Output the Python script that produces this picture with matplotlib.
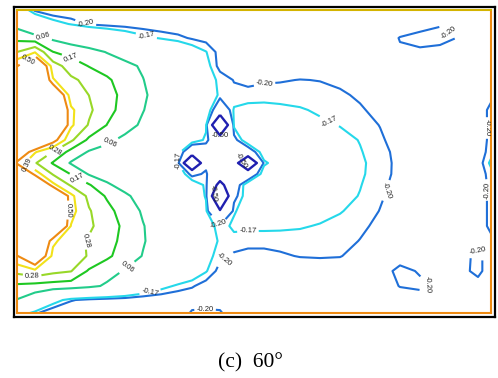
import numpy as np
import matplotlib
matplotlib.use("Agg")
import matplotlib.pyplot as plt

# positions of the sampled field (pixel-like units, y grows downward)
x_pos = [17, 35, 53, 71, 89, 107, 125, 143, 161, 178, 192, 206, 220, 234,
         248, 264, 280, 300, 320, 340, 360, 380, 400, 420, 440, 460, 478, 491]
y_pos = [10, 24, 38, 52, 66, 80, 95, 110, 125, 140, 152, 163, 174, 185,
         196, 211, 226, 241, 256, 271, 286, 300, 313]

# values, one row per y_pos entry
field = [
    [-0.10, -0.21, -0.24, -0.24, -0.24, -0.24, -0.24, -0.24, -0.24, -0.24, -0.24, -0.24, -0.24, -0.24,
     -0.24, -0.24, -0.24, -0.24, -0.24, -0.24, -0.24, -0.24, -0.235, -0.23, -0.23, -0.23, -0.235, -0.235],
    [0.02, -0.07, -0.14, -0.175, -0.205, -0.215, -0.22, -0.225, -0.23, -0.23, -0.23, -0.23, -0.23, -0.23,
     -0.23, -0.23, -0.23, -0.23, -0.23, -0.23, -0.23, -0.23, -0.225, -0.225, -0.205, -0.205, -0.225, -0.23],
    [0.14, 0.10, 0.04, 0.0, -0.04, -0.08, -0.12, -0.155, -0.175, -0.19, -0.205, -0.215, -0.22, -0.225,
     -0.225, -0.225, -0.225, -0.225, -0.225, -0.225, -0.225, -0.225, -0.198, -0.18, -0.18, -0.205, -0.225, -0.23],
    [0.28, 0.38, 0.172, 0.13, 0.10, 0.055, 0.015, -0.025, -0.064, -0.10, -0.136, -0.168, -0.215, -0.225,
     -0.225, -0.225, -0.225, -0.225, -0.225, -0.225, -0.225, -0.225, -0.205, -0.21, -0.22, -0.225, -0.225, -0.23],
    [0.49, 0.80, 0.33, 0.23, 0.165, 0.125, 0.087, 0.047, -0.01, -0.065, -0.11, -0.15, -0.215, -0.225,
     -0.225, -0.225, -0.225, -0.225, -0.225, -0.225, -0.225, -0.225, -0.225, -0.22, -0.225, -0.225, -0.225, -0.23],
    [0.70, 0.90, 0.40, 0.30, 0.25, 0.186, 0.123, 0.063, 0.004, -0.058, -0.104, -0.15, -0.178, -0.202,
     -0.21, -0.205, -0.203, -0.199, -0.201, -0.207, -0.215, -0.222, -0.225, -0.225, -0.225, -0.225, -0.225, -0.23],
    [0.80, 0.90, 0.75, 0.33, 0.279, 0.209, 0.14, 0.075, 0.015, -0.04, -0.086, -0.131, -0.178, -0.19,
     -0.188, -0.185, -0.185, -0.187, -0.19, -0.195, -0.205, -0.22, -0.225, -0.225, -0.225, -0.225, -0.225, -0.21],
    [0.80, 0.90, 0.90, 0.41, 0.30, 0.204, 0.132, 0.064, 0.005, -0.05, -0.095, -0.12, -0.28, -0.165,
     -0.155, -0.155, -0.16, -0.166, -0.176, -0.186, -0.196, -0.21, -0.222, -0.225, -0.225, -0.225, -0.222, -0.19],
    [0.80, 0.90, 0.90, 0.41, 0.27, 0.168, 0.104, 0.041, -0.016, -0.07, -0.113, -0.16, -0.95, -0.16,
     -0.15, -0.15, -0.15, -0.155, -0.162, -0.172, -0.187, -0.201, -0.215, -0.225, -0.225, -0.225, -0.222, -0.19],
    [0.80, 0.90, 0.56, 0.30, 0.146, 0.084, 0.0325, -0.0125, -0.0575, -0.10, -0.135, -0.18, -0.30, -0.22,
     -0.13, -0.14, -0.14, -0.14, -0.145, -0.155, -0.172, -0.195, -0.215, -0.225, -0.225, -0.225, -0.222, -0.19],
    [0.70, 0.40, 0.275, 0.13, 0.05, 0.02, -0.015, -0.05, -0.09, -0.14, -0.30, -0.25, -0.30, -0.30,
     -0.25, -0.14, -0.14, -0.14, -0.14, -0.15, -0.167, -0.19, -0.21, -0.225, -0.225, -0.225, -0.222, -0.185],
    [0.47, 0.29, 0.16, 0.05, 0.012, -0.025, -0.06, -0.10, -0.135, -0.16, -1.0, -0.22, -0.30, -0.34,
     -0.90, -0.18, -0.14, -0.14, -0.14, -0.148, -0.163, -0.186, -0.21, -0.225, -0.225, -0.225, -0.222, -0.16],
    [0.90, 0.45, 0.27, 0.165, 0.05, 0.016, -0.019, -0.054, -0.089, -0.12, -0.22, -0.19, -0.32, -0.28,
     -0.28, -0.14, -0.14, -0.14, -0.14, -0.148, -0.164, -0.187, -0.21, -0.225, -0.225, -0.225, -0.222, -0.185],
    [0.90, 0.90, 0.42, 0.265, 0.18, 0.075, 0.022, -0.021, -0.063, -0.10, -0.13, -0.18, -0.60, -0.25,
     -0.13, -0.14, -0.14, -0.14, -0.14, -0.15, -0.168, -0.192, -0.212, -0.225, -0.225, -0.225, -0.222, -0.19],
    [0.90, 0.90, 0.90, 0.42, 0.25, 0.157, 0.078, 0.019, -0.033, -0.083, -0.123, -0.175, -0.95, -0.22,
     -0.14, -0.14, -0.14, -0.14, -0.145, -0.155, -0.172, -0.196, -0.214, -0.225, -0.225, -0.225, -0.222, -0.19],
    [0.90, 0.90, 0.90, 0.43, 0.29, 0.203, 0.122, 0.047, -0.011, -0.066, -0.112, -0.157, -0.47, -0.175,
     -0.145, -0.145, -0.145, -0.148, -0.155, -0.167, -0.184, -0.201, -0.218, -0.225, -0.225, -0.225, -0.222, -0.19],
    [0.90, 0.90, 0.90, 0.385, 0.30, 0.223, 0.147, 0.065, 0.006, -0.049, -0.093, -0.14, -0.19, -0.16,
     -0.16, -0.16, -0.162, -0.166, -0.173, -0.183, -0.194, -0.207, -0.22, -0.225, -0.225, -0.225, -0.222, -0.19],
    [0.80, 0.90, 0.41, 0.33, 0.267, 0.207, 0.141, 0.068, 0.01, -0.044, -0.088, -0.132, -0.178, -0.185,
     -0.19, -0.19, -0.188, -0.186, -0.185, -0.19, -0.201, -0.215, -0.225, -0.225, -0.225, -0.225, -0.222, -0.21],
    [0.49, 0.70, 0.36, 0.31, 0.275, 0.19, 0.12, 0.055, -0.005, -0.06, -0.106, -0.15, -0.19, -0.205,
     -0.21, -0.21, -0.205, -0.198, -0.196, -0.198, -0.215, -0.225, -0.225, -0.225, -0.225, -0.215, -0.19, -0.22],
    [0.31, 0.36, 0.31, 0.285, 0.155, 0.10, 0.052, 0.004, -0.045, -0.09, -0.128, -0.166, -0.215, -0.225,
     -0.225, -0.225, -0.225, -0.225, -0.225, -0.225, -0.225, -0.225, -0.185, -0.205, -0.225, -0.212, -0.19, -0.22],
    [0.15, 0.13, 0.12, 0.11, 0.085, 0.045, -0.021, -0.085, -0.149, -0.18, -0.195, -0.22, -0.225, -0.225,
     -0.225, -0.225, -0.225, -0.225, -0.225, -0.225, -0.225, -0.225, -0.198, -0.19, -0.215, -0.22, -0.215, -0.225],
    [0.055, -0.02, -0.14, -0.195, -0.215, -0.225, -0.23, -0.24, -0.235, -0.235, -0.235, -0.235, -0.235, -0.235,
     -0.235, -0.235, -0.235, -0.235, -0.235, -0.235, -0.235, -0.235, -0.225, -0.225, -0.23, -0.235, -0.235, -0.235],
    [-0.12, -0.19, -0.24, -0.25, -0.25, -0.25, -0.25, -0.25, -0.25, -0.25, -0.19, -0.185, -0.19, -0.25,
     -0.25, -0.25, -0.25, -0.25, -0.25, -0.25, -0.25, -0.25, -0.25, -0.25, -0.25, -0.25, -0.25, -0.25],
]

levels = [-0.50, -0.20, -0.17, 0.06, 0.17, 0.28, 0.39, 0.50]
level_colors = ['#2020b0', '#1f6fd8', '#25d8ea', '#22cc8a', '#1ec822',
                '#98d828', '#f2e21a', '#ee8a12']

# where the value labels sit
label_spots = [(85, 25), (147, 33), (42, 40), (70, 60), (28, 60), (110, 143),
               (55, 152), (28, 163), (77, 180), (72, 210), (85, 240), (133, 275),
               (32, 277), (150, 292), (265, 90), (330, 120), (176, 160),
               (218, 224), (248, 232), (222, 255), (205, 308),
               (385, 190), (448, 33), (483, 128), (490, 190), (475, 245), (427, 285)]
low_spots = [(220, 140), (242, 163), (213, 193)]

fig = plt.figure(figsize=(4.98, 3.78), dpi=100)

# black outer frame
frame = fig.add_axes([14 / 498, 61 / 378, 481 / 498, 310 / 378])
frame.set_xticks([])
frame.set_yticks([])
for s in frame.spines.values():
    s.set_color('black')
    s.set_linewidth(1.6)

ax = fig.add_axes([17 / 498, 65 / 378, 474 / 498, 303 / 378])
ax.set_facecolor('white')

Z = np.array(field)
cs = ax.contour(x_pos, y_pos, Z, levels=levels[1:], colors=level_colors[1:],
                linewidths=1.5, negative_linestyles='solid')
cs_low = ax.contour(x_pos, y_pos, Z, levels=levels[:1], colors=level_colors[:1],
                    linewidths=1.7, negative_linestyles='solid')
ax.clabel(cs, manual=label_spots, fmt='%.2f', fontsize=5.5,
          inline=True, inline_spacing=1, colors='#222222')
ax.clabel(cs_low, manual=low_spots, fmt='%.2f', fontsize=5.5,
          inline=False, colors='#222222')
for t in cs.labelTexts + cs_low.labelTexts:
    t.set_family('Liberation Sans')

ax.set_xlim(17, 491)
ax.set_ylim(313, 10)
ax.set_xticks([])
ax.set_yticks([])
for name, s in ax.spines.items():
    s.set_linewidth(1.5)
    s.set_color('#d4b400' if name == 'top' else '#ee8a12')

fig.text(250 / 498, 15 / 378, '(c)  60°', ha='center', va='center',
         family='Liberation Serif', fontsize=15.5)

fig.savefig('out.png', dpi=100)
